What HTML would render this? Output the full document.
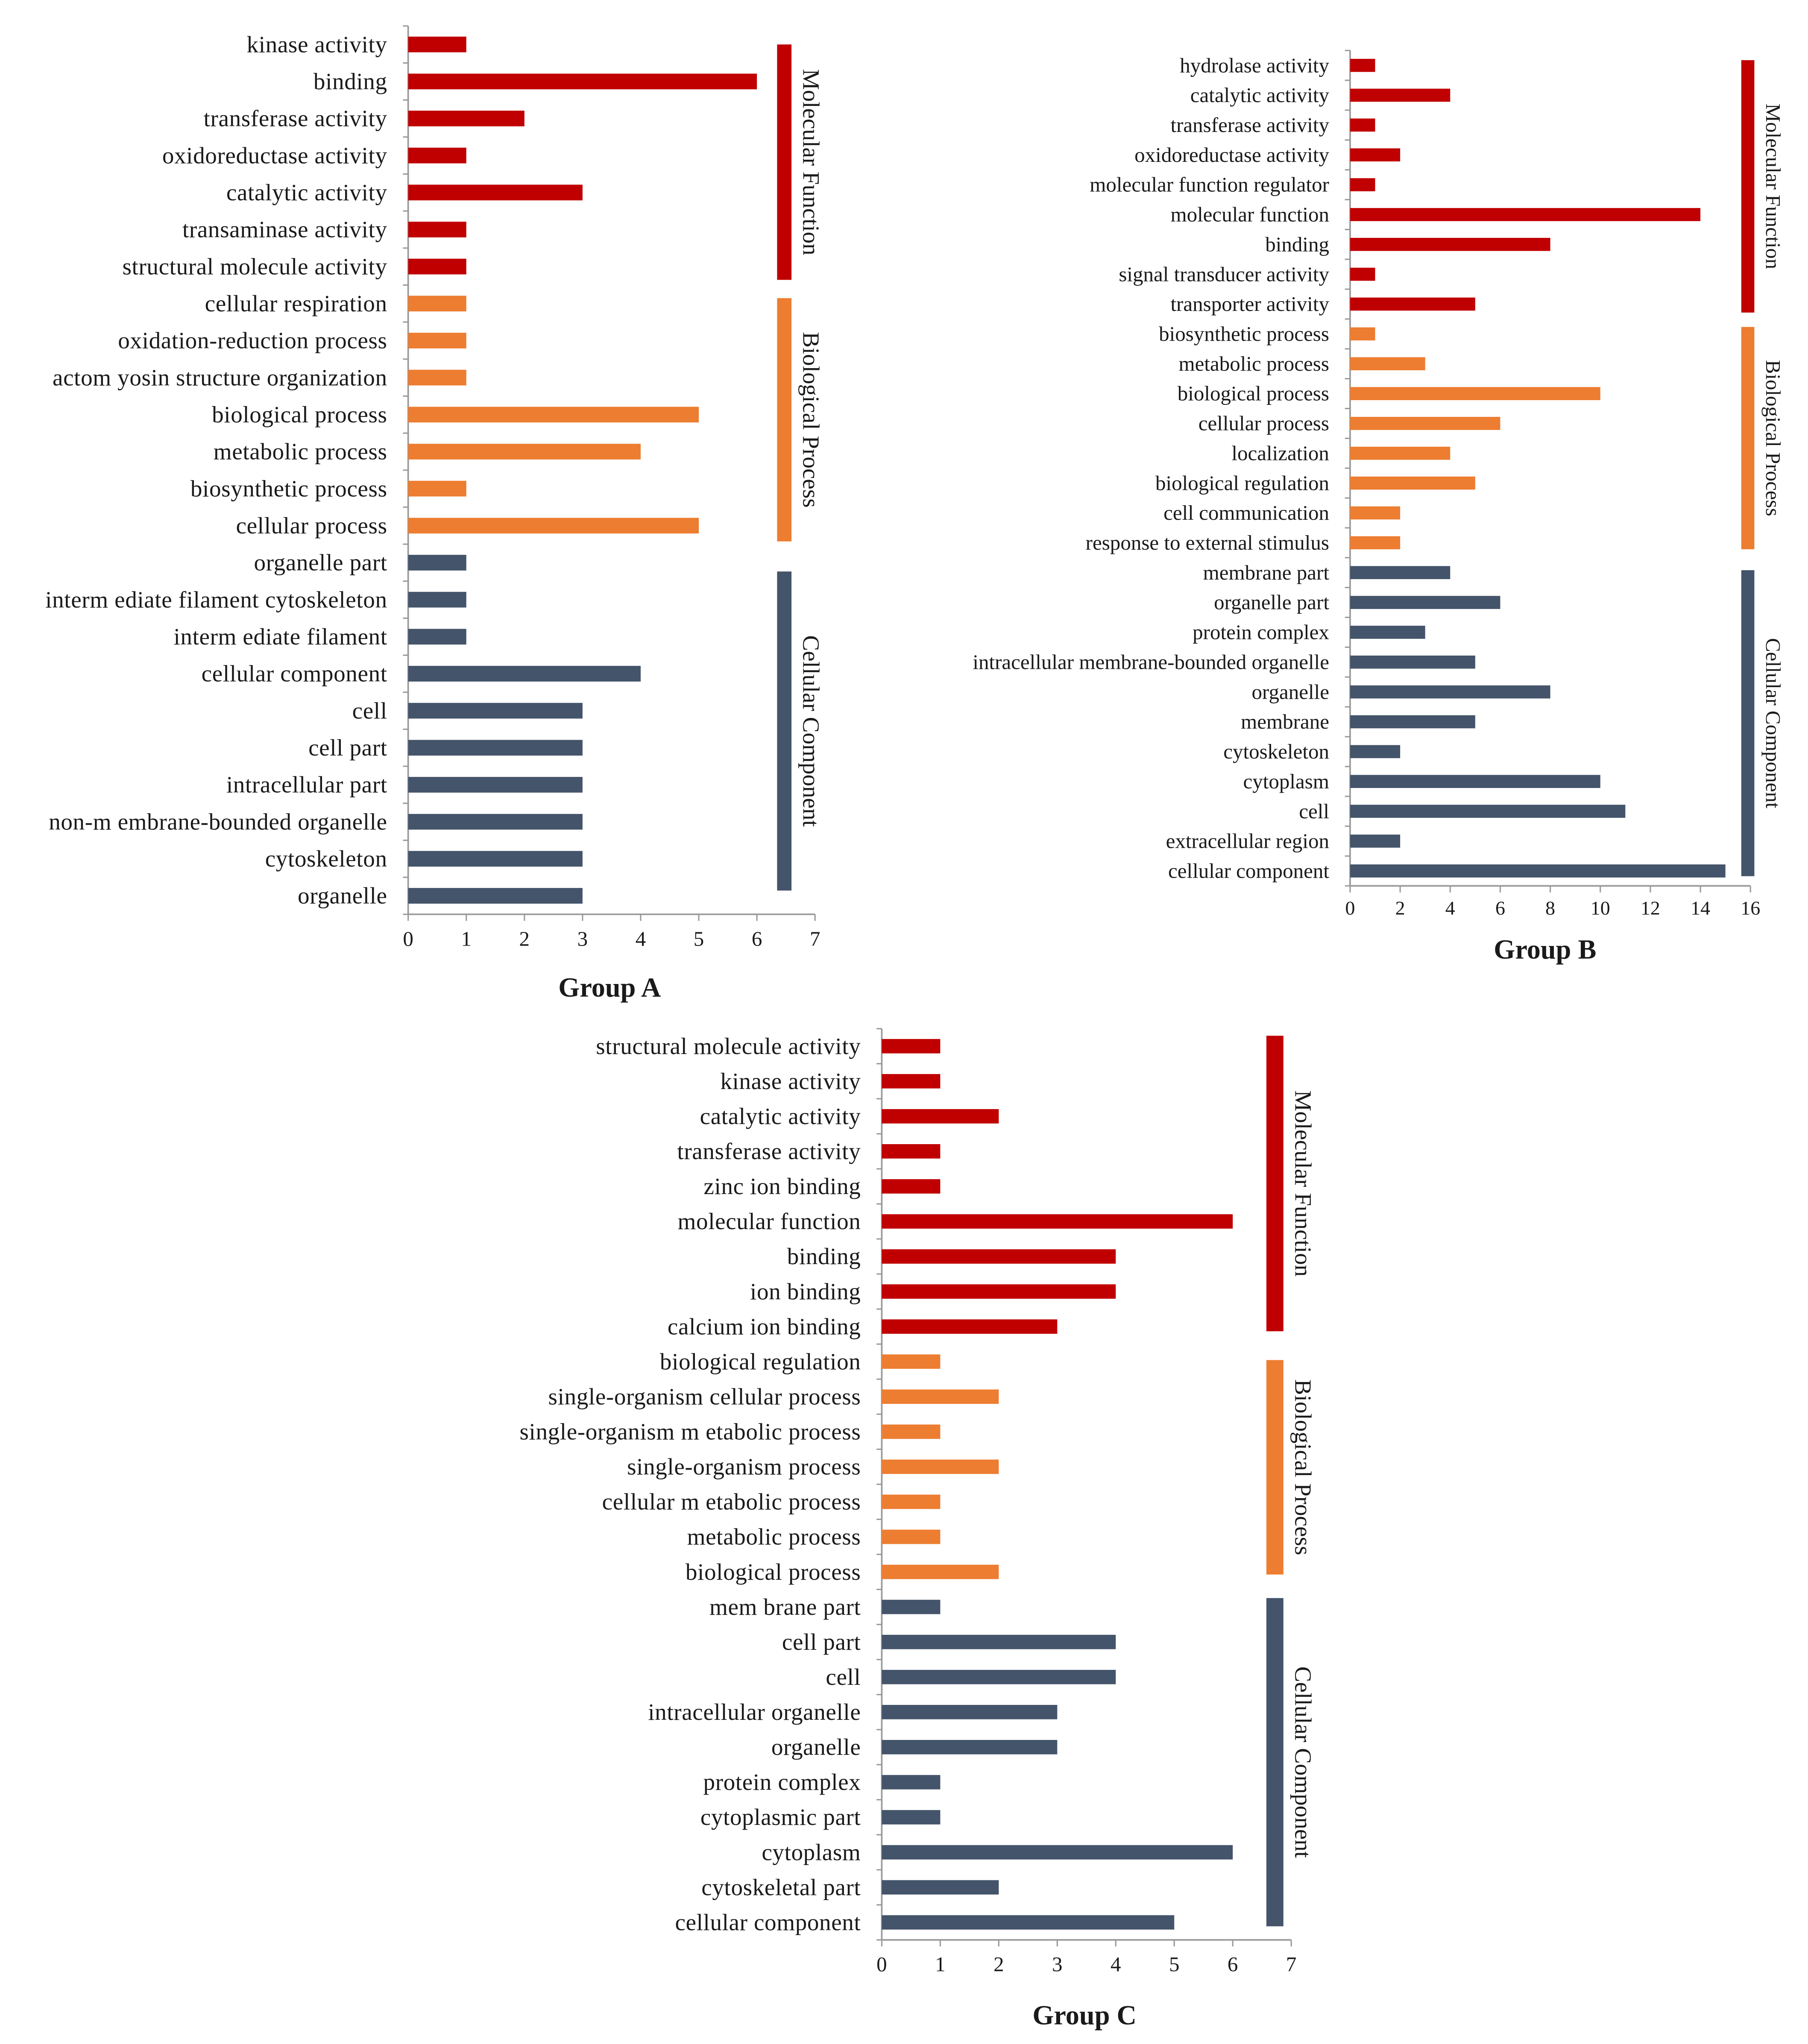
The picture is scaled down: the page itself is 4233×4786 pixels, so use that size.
<!DOCTYPE html>
<html><head><meta charset="utf-8"><style>
html,body{margin:0;padding:0;background:#fff;}
svg{display:block;}
text{font-family:"Liberation Serif",serif;fill:#1a1a1a;}
</style></head><body>
<svg id="chart" width="4233" height="4786" viewBox="0 0 1382 1563" preserveAspectRatio="none" xmlns="http://www.w3.org/2000/svg"></svg>
<script>
const NS="http://www.w3.org/2000/svg";
const C={MF:"#C00000",BP:"#ED7D31",CC:"#44546A"};
const aCats=["kinase activity","binding","transferase activity","oxidoreductase activity","catalytic activity","transaminase activity","structural molecule activity","cellular respiration","oxidation-reduction process","actom yosin structure organization","biological process","metabolic process","biosynthetic process","cellular process","organelle part","interm ediate filament cytoskeleton","interm ediate filament","cellular component","cell","cell part","intracellular part","non-m embrane-bounded organelle","cytoskeleton","organelle"];
const aVals=[1,6,2,1,3,1,1,1,1,1,5,4,1,5,1,1,1,4,3,3,3,3,3,3];
const aGroups=["MF","MF","MF","MF","MF","MF","MF","BP","BP","BP","BP","BP","BP","BP","CC","CC","CC","CC","CC","CC","CC","CC","CC","CC"];
const aTicks=[0,1,2,3,4,5,6,7];
const bCats=["hydrolase activity","catalytic activity","transferase activity","oxidoreductase activity","molecular function regulator","molecular function","binding","signal transducer activity","transporter activity","biosynthetic process","metabolic process","biological process","cellular process","localization","biological regulation","cell communication","response to external stimulus","membrane part","organelle part","protein complex","intracellular membrane-bounded organelle","organelle","membrane","cytoskeleton","cytoplasm","cell","extracellular region","cellular component"];
const bVals=[1,4,1,2,1,14,8,1,5,1,3,10,6,4,5,2,2,4,6,3,5,8,5,2,10,11,2,15];
const bGroups=["MF","MF","MF","MF","MF","MF","MF","MF","MF","BP","BP","BP","BP","BP","BP","BP","BP","CC","CC","CC","CC","CC","CC","CC","CC","CC","CC","CC"];
const bTicks=[0,2,4,6,8,10,12,14,16];
const cCats=["structural molecule activity","kinase activity","catalytic activity","transferase activity","zinc ion binding","molecular function","binding","ion binding","calcium ion binding","biological regulation","single-organism cellular process","single-organism m etabolic process","single-organism process","cellular m etabolic process","metabolic process","biological process","mem brane part","cell part","cell","intracellular organelle","organelle","protein complex","cytoplasmic part","cytoplasm","cytoskeletal part","cellular component"];
const cVals=[1,1,2,1,1,6,4,4,3,1,2,1,2,1,1,2,1,4,4,3,3,1,1,6,2,5];
const cGroups=["MF","MF","MF","MF","MF","MF","MF","MF","MF","BP","BP","BP","BP","BP","BP","BP","CC","CC","CC","CC","CC","CC","CC","CC","CC","CC"];
const cTicks=[0,1,2,3,4,5,6,7];
const svg=document.getElementById('chart');
function mk(tag,attrs,parent){const e=document.createElementNS(NS,tag);for(const k in attrs)e.setAttribute(k,attrs[k]);(parent||svg).appendChild(e);return e;}
function panel(o){
  const g=mk('g',{});
  
  
  const n=o.cats.length, max=o.ticks[o.ticks.length-1];
  const sx=v=>o.x0+(o.x1-o.x0)*v/max;
  const step=(o.yl-o.yf)/(n-1);
  const sy=i=>o.yf+i*step;
  const ya=mk('line',{x1:o.x0,x2:o.x0,y1:o.yf-step/2,y2:o.yl+step/2,stroke:'#999','stroke-width':1.2},g);
  
  
  const xa=mk('line',{x1:o.x0,x2:o.x1,y1:o.yl+step/2,y2:o.yl+step/2,stroke:'#999','stroke-width':1.2},g);
  
  
  for(let i=0;i<=n;i++){mk('line',{x1:o.x0-4,x2:o.x0,y1:sy(i)-step/2,y2:sy(i)-step/2,stroke:'#999','stroke-width':1},g);}
  o.ticks.forEach(t=>{
    mk('line',{x1:sx(t),x2:sx(t),y1:o.yl+step/2,y2:o.yl+step/2+5,stroke:'#999','stroke-width':1},g);
    const tl=mk('text',{x:sx(t),y:o.yl+step/2+o.tdy,'text-anchor':'middle','font-size':o.tfs},g);
    tl.textContent=t;
    
    
  });
  o.cats.forEach((c,i)=>{
    const r=mk('rect',{x:o.x0,y:sy(i)-o.bh/2,width:sx(o.vals[i])-o.x0,height:o.bh,fill:C[o.groups[i]]},g);
    
    
    const t=mk('text',{x:o.x0-16,y:sy(i)+o.fs*0.33,'text-anchor':'end','font-size':o.fs,'letter-spacing':o.ls},g);
    t.textContent=c;
    
    
  });
  const names={MF:"Molecular Function",BP:"Biological Process",CC:"Cellular Component"};
  o.brackets.forEach(b=>{
    const [k,y1,y2]=b;
    const r=mk('rect',{x:o.sbx,y:y1,width:o.sbw,height:y2-y1,fill:C[k]},g);
    
    
    const cx=o.sbx+o.sbw+9, cy=(y1+y2)/2;
    const t=mk('text',{x:cx,y:cy,'text-anchor':'middle','font-size':o.sfs,transform:`rotate(90 ${cx} ${cy})`},g);
    t.textContent=names[k];
    
    
  });
  const tt=mk('text',{x:o.titleX,y:o.titleY,'text-anchor':'middle','font-size':21,'font-weight':'bold'},g);
  tt.textContent=o.title;
  
  
}
panel({name:'group-a-chart',cats:aCats,vals:aVals,groups:aGroups,ticks:aTicks,x0:312,x1:623,yf:34,yl:685,bh:12,fs:18,ls:0.2,tfs:16,tdy:24,sbx:594,sbw:11,sfs:18,
  brackets:[["MF",34,214],["BP",228,414],["CC",437,681]],title:'Group  A',titleX:466,titleY:762});
panel({name:'group-b-chart',cats:bCats,vals:bVals,groups:bGroups,ticks:bTicks,x0:1032,x1:1338,yf:50,yl:666,bh:10,fs:16,ls:0,tfs:15,tdy:22,sbx:1331,sbw:10,sfs:16,
  brackets:[["MF",46,239],["BP",250,420],["CC",436,670]],title:'Group  B',titleX:1181,titleY:733});
panel({name:'group-c-chart',cats:cCats,vals:cVals,groups:cGroups,ticks:cTicks,x0:674,x1:987,yf:800,yl:1470,bh:11,fs:18,ls:0.2,tfs:16,tdy:24,sbx:968,sbw:13,sfs:18,
  brackets:[["MF",792,1018],["BP",1040,1204],["CC",1222,1473]],title:'Group  C',titleX:829,titleY:1548});
</script>
</body></html>
